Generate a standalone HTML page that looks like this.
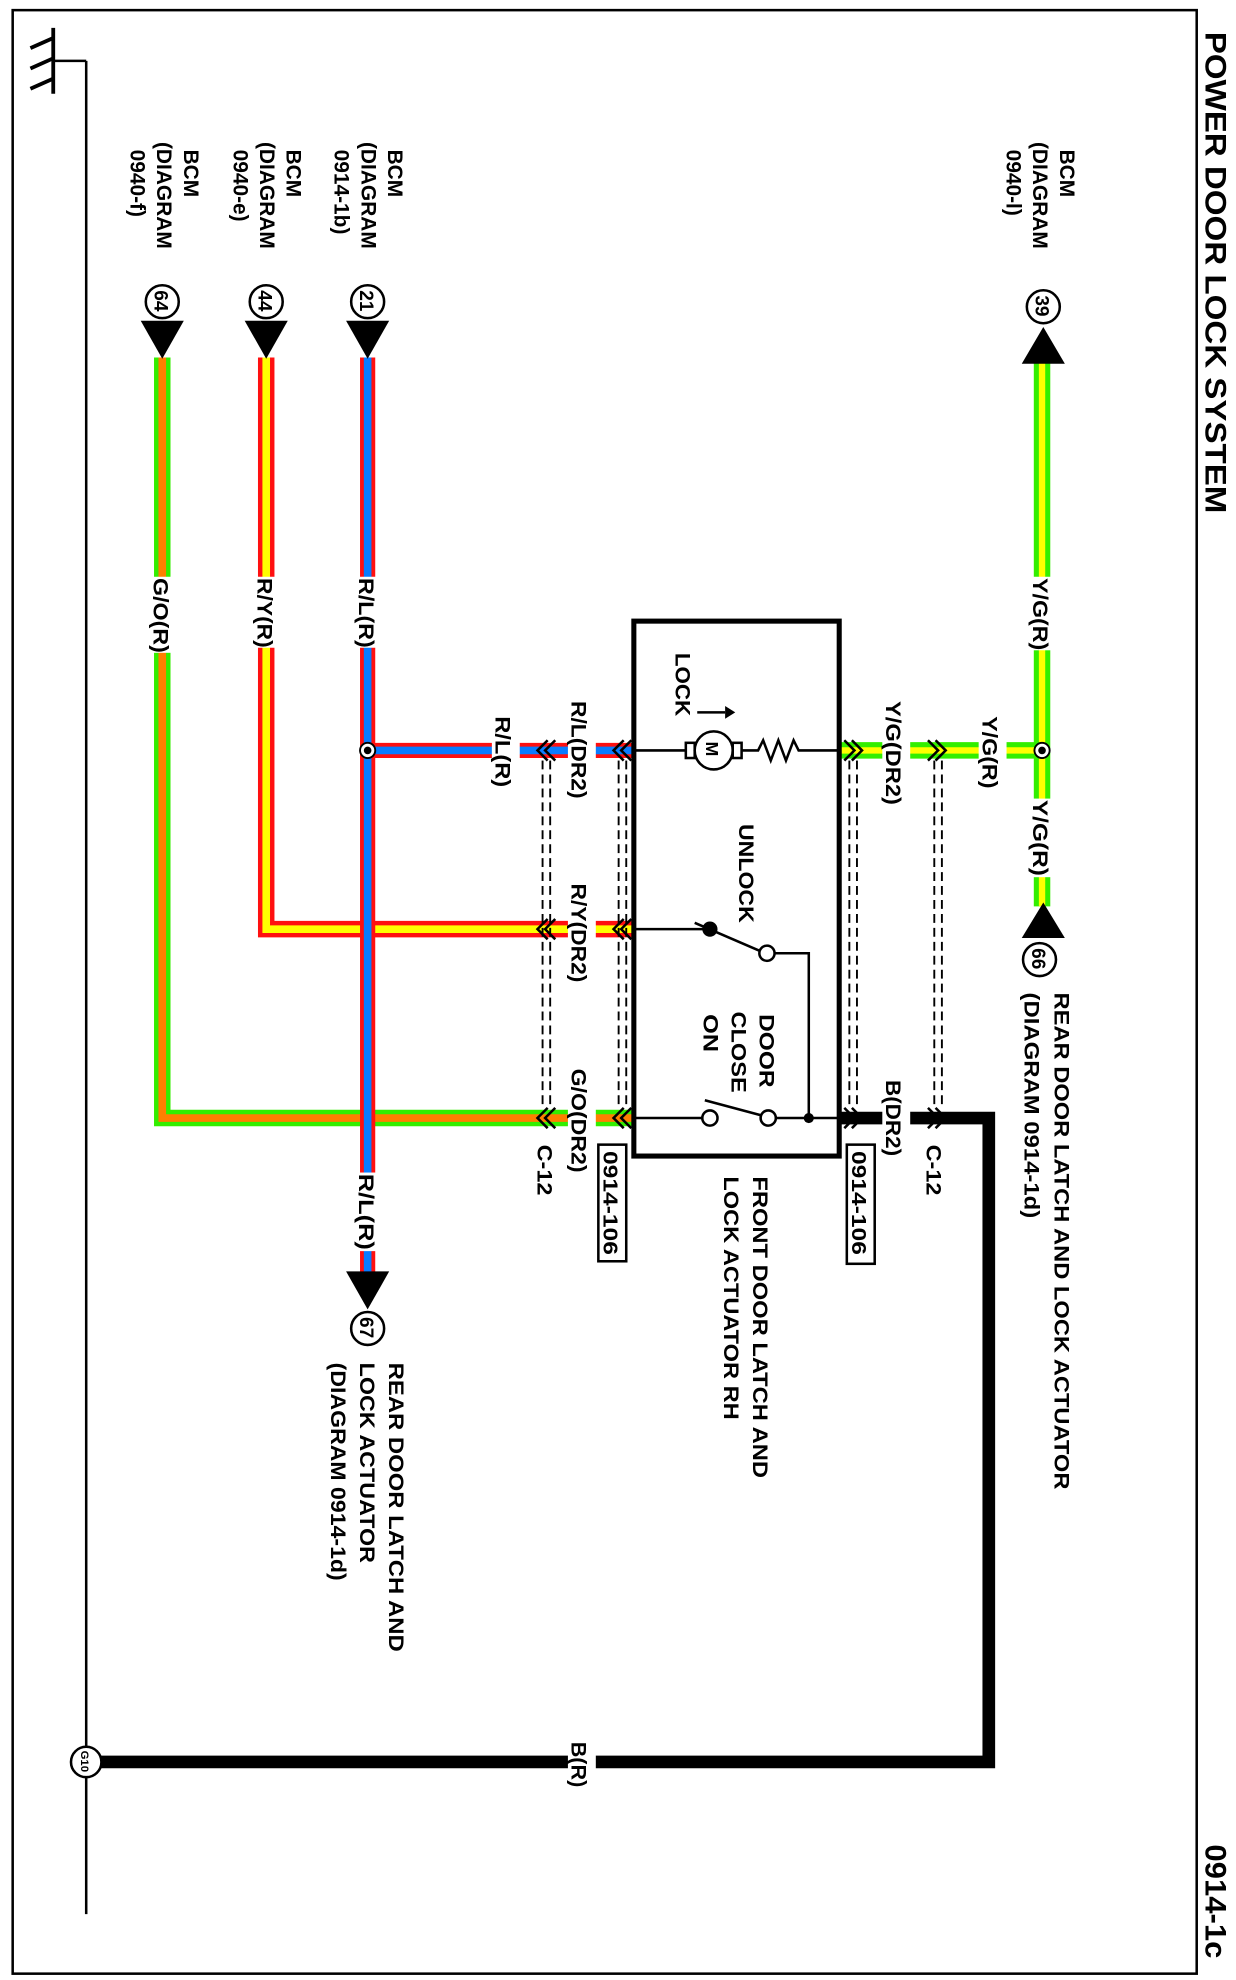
<!DOCTYPE html>
<html><head><meta charset="utf-8"><style>
html,body{margin:0;padding:0;background:#fff;}
svg{display:block;}
text{font-family:"Liberation Sans",sans-serif;font-weight:bold;fill:#000;}
</style></head><body>
<svg width="1236" height="1980" viewBox="0 0 975 1562" preserveAspectRatio="none" xmlns="http://www.w3.org/2000/svg">
<rect x="10" y="8" width="934" height="1549" fill="none" stroke="#000" stroke-width="2"/>
<text transform="translate(951,25) rotate(90)" font-size="23" font-weight="normal" textLength="380" lengthAdjust="spacingAndGlyphs">POWER DOOR LOCK SYSTEM</text>
<text transform="translate(951,1455) rotate(90)" font-size="23" font-weight="normal" textLength="90" lengthAdjust="spacingAndGlyphs">0914-1c</text>
<!-- ground -->
<line x1="68" y1="48" x2="68" y2="1510" stroke="#000" stroke-width="2"/>
<line x1="42" y1="48" x2="68" y2="48" stroke="#000" stroke-width="2"/>
<line x1="42" y1="22" x2="42" y2="74" stroke="#000" stroke-width="3"/>
<line x1="42" y1="30" x2="24" y2="38" stroke="#000" stroke-width="3"/>
<line x1="42" y1="46" x2="24" y2="54" stroke="#000" stroke-width="3"/>
<line x1="42" y1="62" x2="24" y2="70" stroke="#000" stroke-width="3"/>

<!-- B wire -->
<polyline points="662,882 780,882 780,1390 80,1390" fill="none" stroke="#000" stroke-width="10"/>
<circle cx="68" cy="1390" r="12" fill="#fff" stroke="#000" stroke-width="2"/>
<text transform="translate(64,1381) rotate(90)" font-size="9">G10</text>

<!-- G/O -->
<polyline points="128,282 128,882 500,882" fill="none" stroke="#33ee00" stroke-width="13"/>
<polyline points="128,282 128,882 500,882" fill="none" stroke="#ff7f00" stroke-width="6"/>
<!-- R/Y -->
<polyline points="210,282 210,733 500,733" fill="none" stroke="#ff1010" stroke-width="13"/>
<polyline points="210,282 210,733 500,733" fill="none" stroke="#ffff00" stroke-width="6"/>
<!-- R/L -->
<polyline points="290,282 290,1005" fill="none" stroke="#ff1010" stroke-width="12"/>
<polyline points="290,282 290,1005" fill="none" stroke="#0a7cff" stroke-width="6"/>
<polyline points="290,592 500,592" fill="none" stroke="#ff1010" stroke-width="12"/>
<polyline points="290,592 500,592" fill="none" stroke="#0a7cff" stroke-width="6"/>
<!-- Y/G -->
<polyline points="822,285 822,715" fill="none" stroke="#33ee00" stroke-width="13"/>
<polyline points="822,285 822,715" fill="none" stroke="#ffff00" stroke-width="5"/>
<polyline points="662,592 822,592" fill="none" stroke="#33ee00" stroke-width="13"/>
<polyline points="662,592 822,592" fill="none" stroke="#ffff00" stroke-width="5"/>

<circle cx="290" cy="592" r="6" fill="#fff" stroke="#000" stroke-width="1.5"/><circle cx="290" cy="592" r="3" fill="#000"/>
<circle cx="822" cy="592" r="6" fill="#fff" stroke="#000" stroke-width="1.5"/><circle cx="822" cy="592" r="3" fill="#000"/>

<g stroke="#000" stroke-width="1.5" stroke-dasharray="7,4" fill="none">
<line x1="428" y1="600" x2="428" y2="875"/><line x1="434" y1="600" x2="434" y2="875"/>
<line x1="488" y1="600" x2="488" y2="875"/><line x1="494" y1="600" x2="494" y2="875"/>
<line x1="670" y1="600" x2="670" y2="875"/><line x1="676" y1="600" x2="676" y2="875"/>
<line x1="737" y1="600" x2="737" y2="875"/><line x1="743" y1="600" x2="743" y2="875"/>
</g>
<g stroke="#000" stroke-width="2" fill="none">
<g id="cl"><polyline points="432,584 424,592 432,600"/><polyline points="438,584 430,592 438,600"/></g>
<use href="#cl" y="141"/><use href="#cl" y="290"/>
<use href="#cl" x="60"/><use href="#cl" x="60" y="141"/><use href="#cl" x="60" y="290"/>
<g id="cr"><polyline points="666,584 674,592 666,600"/><polyline points="672,584 680,592 672,600"/></g>
<use href="#cr" y="290"/>
<use href="#cr" x="66"/><use href="#cr" x="66" y="290"/>
</g>

<rect x="500" y="490" width="162" height="422" fill="none" stroke="#000" stroke-width="4"/>
<g stroke="#000" stroke-width="2" fill="none">
<line x1="500" y1="592" x2="541" y2="592"/>
<rect x="541" y="586" width="7" height="12"/>
<circle cx="563" cy="592" r="15"/>
<rect x="578" y="586" width="7" height="12"/>
<polyline points="585,592 598,592 602,584 608,600 614,584 620,600 626,584 630,592 662,592"/>
<line x1="550" y1="562" x2="572" y2="562"/>
<line x1="500" y1="733" x2="560" y2="733"/>
<line x1="548" y1="728" x2="599" y2="750"/>
<circle cx="605" cy="752" r="6" fill="#fff"/>
<polyline points="611,752 638,752 638,882"/>
<line x1="500" y1="882" x2="554" y2="882"/>
<circle cx="560" cy="882" r="6" fill="#fff"/>
<line x1="556" y1="868" x2="601" y2="880"/>
<circle cx="606" cy="882" r="6" fill="#fff"/>
<line x1="612" y1="882" x2="662" y2="882"/>
</g>
<polygon points="572,557 580,562 572,567" fill="#000"/>
<circle cx="560" cy="733" r="6" fill="#000"/>
<circle cx="638" cy="882" r="4" fill="#000"/>
<text transform="translate(557,585) rotate(90)" font-size="14">M</text>

<g fill="#000">
<polygon points="273,253 307,253 290,283"/>
<polygon points="193,253 227,253 210,283"/>
<polygon points="111,253 145,253 128,283"/>
<polygon points="806,287 840,287 823,258"/>
<polygon points="806,740 840,740 823,712"/>
<polygon points="273,1003 307,1003 290,1033"/>
</g>
<g fill="#fff" stroke="#000" stroke-width="2">
<circle cx="290" cy="238" r="13"/><circle cx="210" cy="238" r="13"/><circle cx="128" cy="238" r="13"/>
<circle cx="823" cy="242" r="13"/><circle cx="820" cy="757" r="13"/><circle cx="290" cy="1048" r="13"/>
</g>
<g font-size="15">
<text transform="translate(284,229) rotate(90)">21</text>
<text transform="translate(204,229) rotate(90)">44</text>
<text transform="translate(122,229) rotate(90)">64</text>
<text transform="translate(817,233) rotate(90)">39</text>
<text transform="translate(814,748) rotate(90)">66</text>
<text transform="translate(284,1039) rotate(90)">67</text>
</g>

<g fill="#fff">
<rect x="280" y="455" width="20" height="56"/>
<rect x="200" y="455" width="20" height="56"/>
<rect x="118" y="455" width="20" height="60"/>
<rect x="812" y="455" width="20" height="58"/>
<rect x="812" y="630" width="20" height="62"/>
<rect x="280" y="925" width="20" height="62"/>
<rect x="388" y="584" width="22" height="16"/>
<rect x="448" y="584" width="22" height="16"/>
<rect x="448" y="725" width="22" height="16"/>
<rect x="448" y="874" width="22" height="16"/>
<rect x="696" y="584" width="22" height="16"/>
<rect x="772" y="584" width="22" height="16"/>
<rect x="696" y="874" width="22" height="16"/>
<rect x="448" y="1382" width="22" height="16"/>
</g>

<g font-size="16.5">
<text transform="translate(283,456) rotate(90)" textLength="55" lengthAdjust="spacingAndGlyphs">R/L(R)</text>
<text transform="translate(203,456) rotate(90)" textLength="55" lengthAdjust="spacingAndGlyphs">R/Y(R)</text>
<text transform="translate(121,456) rotate(90)" textLength="59" lengthAdjust="spacingAndGlyphs">G/O(R)</text>
<text transform="translate(815,456) rotate(90)" textLength="57" lengthAdjust="spacingAndGlyphs">Y/G(R)</text>
<text transform="translate(815,631) rotate(90)" textLength="60" lengthAdjust="spacingAndGlyphs">Y/G(R)</text>
<text transform="translate(283,926) rotate(90)" textLength="60" lengthAdjust="spacingAndGlyphs">R/L(R)</text>
<text transform="translate(391,565) rotate(90)" textLength="56" lengthAdjust="spacingAndGlyphs">R/L(R)</text>
<text transform="translate(451,553) rotate(90)" textLength="77" lengthAdjust="spacingAndGlyphs">R/L(DR2)</text>
<text transform="translate(451,697) rotate(90)" textLength="78" lengthAdjust="spacingAndGlyphs">R/Y(DR2)</text>
<text transform="translate(451,843) rotate(90)" textLength="82" lengthAdjust="spacingAndGlyphs">G/O(DR2)</text>
<text transform="translate(699,553) rotate(90)" textLength="82" lengthAdjust="spacingAndGlyphs">Y/G(DR2)</text>
<text transform="translate(775,565) rotate(90)" textLength="57" lengthAdjust="spacingAndGlyphs">Y/G(R)</text>
<text transform="translate(699,852) rotate(90)" textLength="60" lengthAdjust="spacingAndGlyphs">B(DR2)</text>
<text transform="translate(424,903) rotate(90)" textLength="40" lengthAdjust="spacingAndGlyphs">C-12</text>
<text transform="translate(731,903) rotate(90)" textLength="40" lengthAdjust="spacingAndGlyphs">C-12</text>
<text transform="translate(451,1374) rotate(90)" textLength="36" lengthAdjust="spacingAndGlyphs">B(R)</text>

<text transform="translate(306,118) rotate(90)">BCM</text>
<text transform="translate(285,112) rotate(90)">(DIAGRAM</text>
<text transform="translate(264,118) rotate(90)">0914-1b)</text>
<text transform="translate(226,118) rotate(90)">BCM</text>
<text transform="translate(205,112) rotate(90)">(DIAGRAM</text>
<text transform="translate(184,118) rotate(90)">0940-e)</text>
<text transform="translate(145,118) rotate(90)">BCM</text>
<text transform="translate(124,112) rotate(90)">(DIAGRAM</text>
<text transform="translate(103,118) rotate(90)">0940-f)</text>
<text transform="translate(836,118) rotate(90)">BCM</text>
<text transform="translate(815,112) rotate(90)">(DIAGRAM</text>
<text transform="translate(794,118) rotate(90)">0940-l)</text>

<text transform="translate(533,515) rotate(90)" textLength="50" lengthAdjust="spacingAndGlyphs">LOCK</text>
<text transform="translate(583,650) rotate(90)" textLength="78" lengthAdjust="spacingAndGlyphs">UNLOCK</text>
<text transform="translate(599,800) rotate(90)" textLength="58" lengthAdjust="spacingAndGlyphs">DOOR</text>
<text transform="translate(577,798) rotate(90)" textLength="64" lengthAdjust="spacingAndGlyphs">CLOSE</text>
<text transform="translate(555,800) rotate(90)" textLength="30" lengthAdjust="spacingAndGlyphs">ON</text>

<text transform="translate(594,928) rotate(90)" textLength="238" lengthAdjust="spacingAndGlyphs">FRONT DOOR LATCH AND</text>
<text transform="translate(571,928) rotate(90)" textLength="192" lengthAdjust="spacingAndGlyphs">LOCK ACTUATOR RH</text>
<text transform="translate(832,783) rotate(90)" textLength="392" lengthAdjust="spacingAndGlyphs">REAR DOOR LATCH AND LOCK ACTUATOR</text>
<text transform="translate(808,783) rotate(90)" textLength="178" lengthAdjust="spacingAndGlyphs">(DIAGRAM  0914-1d)</text>
<text transform="translate(307,1075) rotate(90)" textLength="228" lengthAdjust="spacingAndGlyphs">REAR DOOR LATCH AND</text>
<text transform="translate(284,1075) rotate(90)" textLength="158" lengthAdjust="spacingAndGlyphs">LOCK ACTUATOR</text>
<text transform="translate(261,1075) rotate(90)" textLength="172" lengthAdjust="spacingAndGlyphs">(DIAGRAM  0914-1d)</text>
</g>
<rect x="472" y="903" width="22" height="92" fill="#fff" stroke="#000" stroke-width="2"/>
<text transform="translate(476,908) rotate(90)" font-size="16" textLength="82" lengthAdjust="spacingAndGlyphs">0914-106</text>
<rect x="668" y="903" width="22" height="94" fill="#fff" stroke="#000" stroke-width="2"/>
<text transform="translate(672,908) rotate(90)" font-size="16" textLength="82" lengthAdjust="spacingAndGlyphs">0914-106</text>
</svg>
</body></html>
